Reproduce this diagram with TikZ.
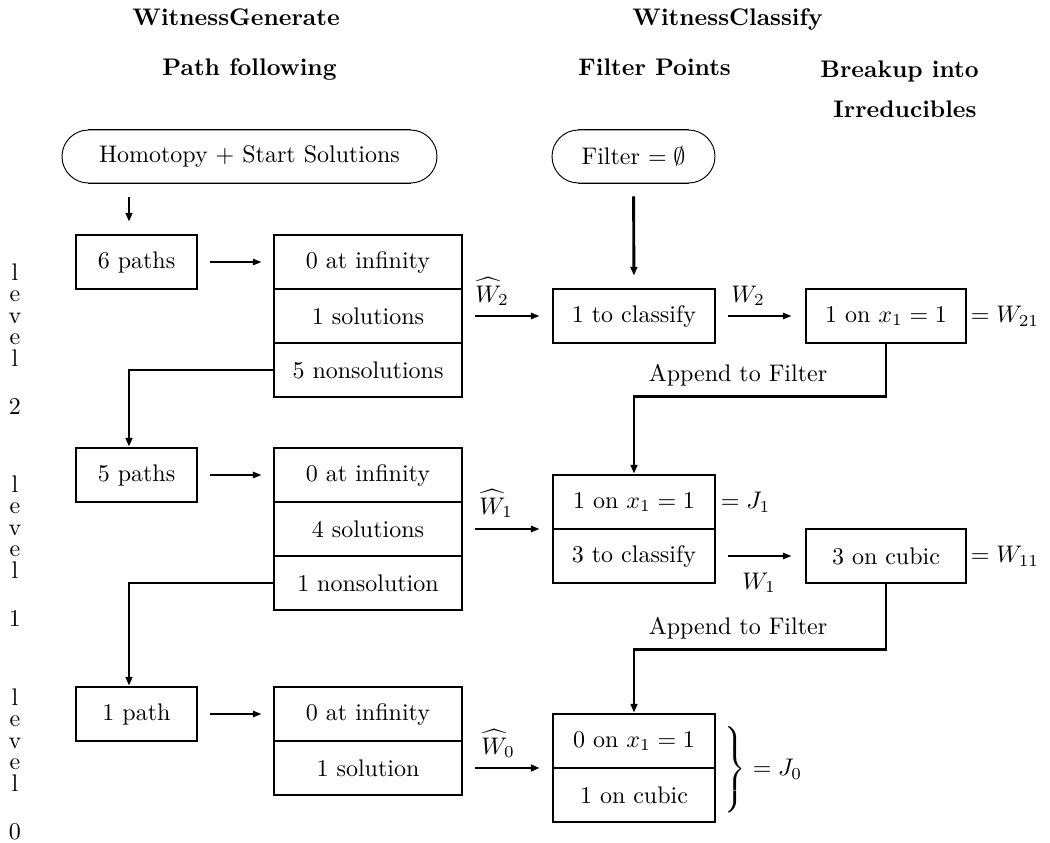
\documentclass[tikz,border=0pt]{standalone}
\usetikzlibrary{arrows.meta}
\newlength\pu
\setlength\pu{0.41667pt}
\begin{document}
\begin{tikzpicture}[x=0.41667pt, y=-0.41667pt,
  box/.style={draw, line width=1.2pt, minimum height=54\pu, inner sep=0pt},
  colA/.style={box, minimum width=121\pu},
  colB/.style={box, minimum width=188\pu},
  colC/.style={box, minimum width=162\pu},
  colD/.style={box, minimum width=160\pu},
  oval/.style={draw, line width=0.4pt, minimum height=53\pu, rounded corners=26.5\pu, inner sep=0pt},
  ovalline/.style={line width=0.8pt},
  thinarrow/.style={line width=0.8pt, -{Stealth[length=3.6pt,width=2.6pt,inset=0pt]}},
  thickarrow/.style={line width=1.2pt, -{Stealth[length=3.6pt,width=2.8pt,inset=0pt]}},
  plain/.style={inner sep=0pt},
  head/.style={inner sep=0pt, font=\bfseries, anchor=base west},
  lvl/.style={inner sep=0pt, align=center, anchor=north, font=\fontsize{10}{8.96}\selectfont},
]
\useasboundingbox (0,0) rectangle (1050,842);

% headers
\node[head] (hg) at (132,25) {WitnessGenerate};
\node[head] (hpf) at (162,75) {Path following};
\node[head] (hc) at (632,25) {WitnessClassify};
\node[head] (hfp) at (578,75) {Filter Points};
\node[head] (hb1) at (820,77) {Breakup into};
\node[head] (hb2) at (833,117) {Irreducibles};

% level labels
\node[lvl] (lv2) at (15,263) {l\\e\\v\\e\\l\\[11pt]2};
\node[lvl] (lv1) at (15,475) {l\\e\\v\\e\\l\\[11pt]1};
\node[lvl] (lv0) at (15,688) {l\\e\\v\\e\\l\\[11pt]0};

% ovals
\node[oval, minimum width=375\pu] (homo) at (249.5,156.5) {Homotopy $+$ Start Solutions};
\draw[ovalline] ([xshift=26.5\pu]homo.north west) -- ([xshift=-26.5\pu]homo.north east);
\draw[ovalline] ([xshift=26.5\pu]homo.south west) -- ([xshift=-26.5\pu]homo.south east);
\node[oval, minimum width=163\pu] (filt) at (633.5,156.5) {Filter $=\emptyset$};
\draw[ovalline] ([xshift=26.5\pu]filt.north west) -- ([xshift=-26.5\pu]filt.north east);
\draw[ovalline] ([xshift=26.5\pu]filt.south west) -- ([xshift=-26.5\pu]filt.south east);

% WitnessGenerate boxes
\node[colA] (p6) at (136.5,262) {6 paths};
\node[colB] (inf2) at (368,262) {0 at infinity};
\node[colB] (sol2) at (368,316) {1 solutions};
\node[colB] (non2) at (368,370) {5 nonsolutions};
\node[colA] (p5) at (136.5,475) {5 paths};
\node[colB] (inf1) at (368,475) {0 at infinity};
\node[colB] (sol1) at (368,529) {4 solutions};
\node[colB] (non1) at (368,583) {1 nonsolution};
\node[colA] (p1) at (136.5,714) {1 path};
\node[colB] (inf0) at (368,714) {0 at infinity};
\node[colB] (sol0) at (368,768) {1 solution};

% WitnessClassify boxes
\node[colC] (cls2) at (634,316) {1 to classify};
\node[colD] (r2) at (886,316) {1 on $x_1=1$};
\node[colC] (j1a) at (634,502) {1 on $x_1=1$};
\node[colC] (j1b) at (634,556) {3 to classify};
\node[colD] (r1) at (886,556) {3 on cubic};
\node[colC] (j0a) at (634,741) {0 on $x_1=1$};
\node[colC] (j0b) at (634,795) {1 on cubic};

% side labels
\node[plain, anchor=west] (w21) at ([xshift=3\pu]r2.east) {$=W_{21}$};
\node[plain, anchor=west] (j1) at ([xshift=4\pu]j1a.east) {$=J_1$};
\node[plain, anchor=west] (w11) at ([xshift=3\pu]r1.east) {$=W_{11}$};
\node[plain, anchor=west] (j0) at ([xshift=5\pu]j0a.south east) {$\left.\vcenter{\hbox{\rule{0pt}{38pt}}}\right\}=J_0$};

% arrow labels
\node[plain, anchor=base west] (lw2h) at (475,302) {$\widehat{W}_2$};
\node[plain, anchor=base west] (lw2) at (731,302) {$W_2$};
\node[plain, anchor=base west] (lw1h) at (479,514) {$\widehat{W}_1$};
\node[plain, anchor=base west] (lw1) at (742,589) {$W_1$};
\node[plain, anchor=base west] (lw0h) at (481,754) {$\widehat{W}_0$};
\node[plain] (ap1) at (738,375) {Append to Filter};
\node[plain] (ap2) at (738,628) {Append to Filter};

% connectors
\coordinate (cA) at (129,0);
\draw[thickarrow, shorten <=14\pu, shorten >=12\pu] (homo.south -| cA) -- (p6.north -| cA);
\draw[thickarrow, shorten <=13\pu, shorten >=12\pu] (filt.south) -- (cls2.north);
\draw[thinarrow, shorten <=12\pu, shorten >=11\pu] (p6.east) -- (inf2.west);
\draw[thinarrow, shorten <=12\pu, shorten >=11\pu] (p5.east) -- (inf1.west);
\draw[thinarrow, shorten <=12\pu, shorten >=11\pu] (p1.east) -- (inf0.west);
\draw[thickarrow] (non2.west) -| (p5.north -| cA);
\draw[thickarrow] (non1.west) -| (p1.north -| cA);
\draw[thinarrow, shorten <=12\pu, shorten >=12\pu] (sol2.east) -- (cls2.west);
\draw[thinarrow, shorten <=12\pu, shorten >=12\pu] (sol1.east) -- (sol1.east -| j1a.west);
\draw[thickarrow, shorten <=12\pu, shorten >=12\pu] (sol0.east) -- (sol0.east -| j0a.west);
\draw[thinarrow, shorten <=12\pu, shorten >=13\pu] (cls2.east) -- (r2.west);
\draw[thinarrow, shorten <=12\pu, shorten >=13\pu] (j1b.east) -- (r1.west);
\draw[thickarrow] (r2.south) -- ++(0,52) -| (j1a.north);
\draw[thickarrow] (r1.south) -- ++(0,65) -| (j0a.north);
\end{tikzpicture}
\end{document}
